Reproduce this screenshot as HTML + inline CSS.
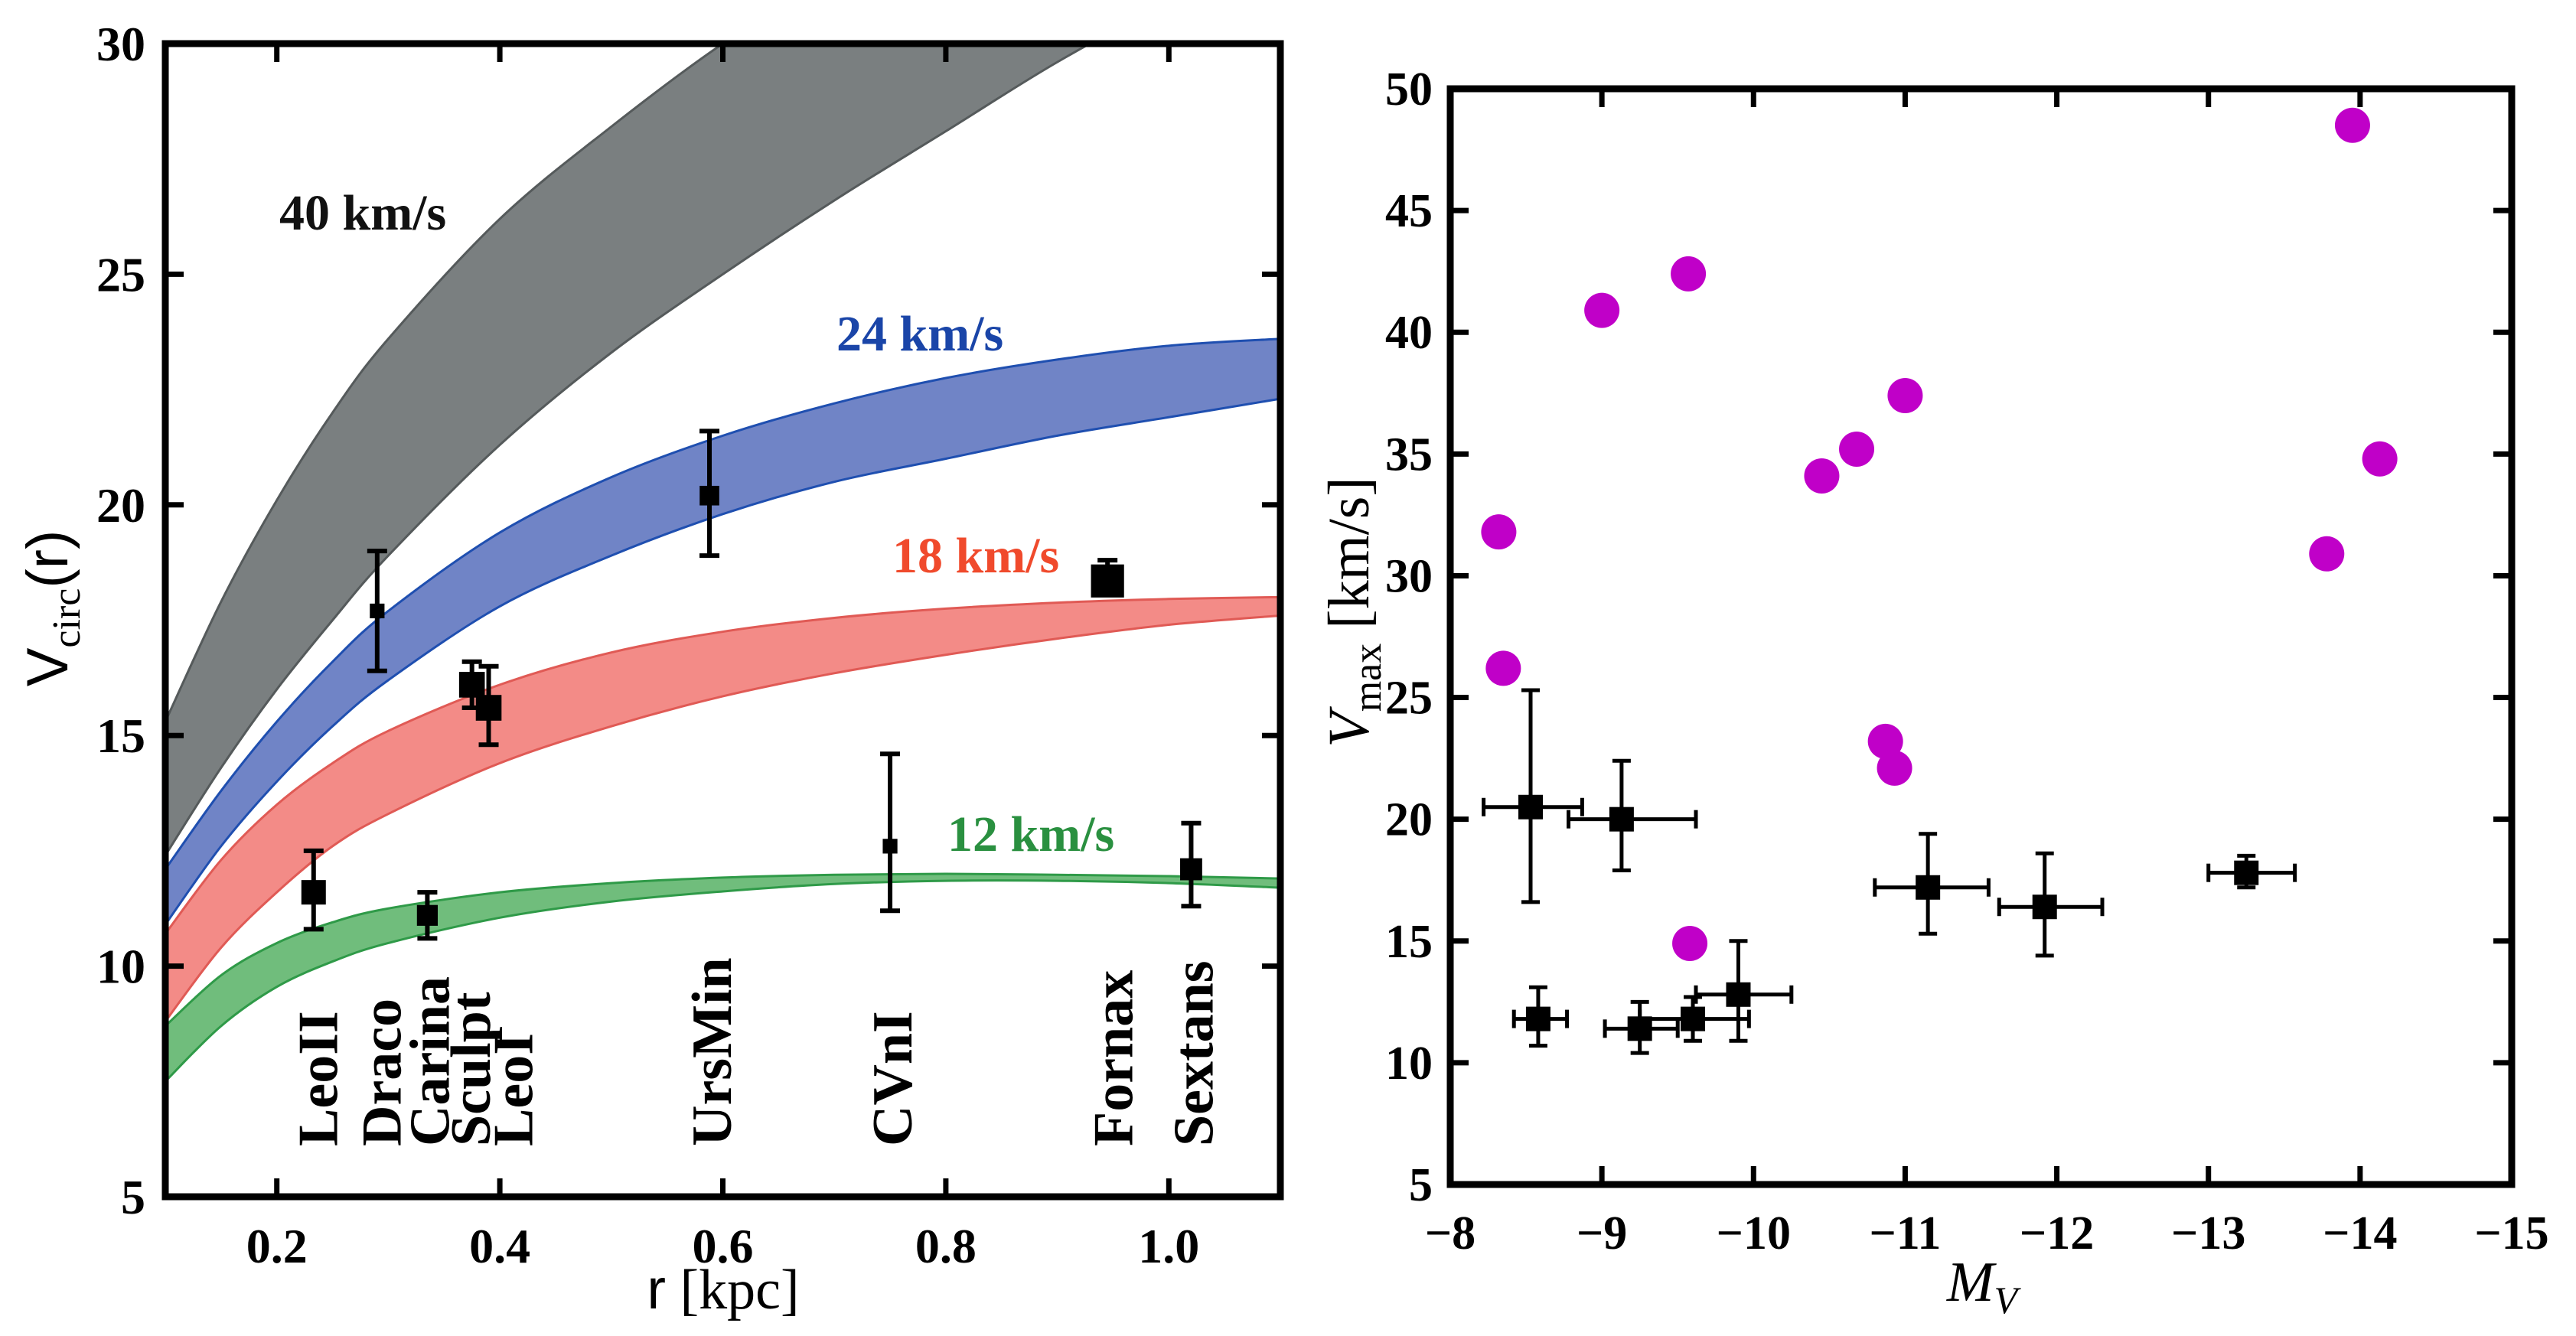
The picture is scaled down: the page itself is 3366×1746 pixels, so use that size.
<!DOCTYPE html>
<html><head><meta charset="utf-8"><style>
html,body{margin:0;padding:0;background:#fff}
svg{display:block}
text{font-family:"Liberation Serif",serif}
</style></head><body>
<svg id="fig" xmlns="http://www.w3.org/2000/svg" width="3366" height="1746" viewBox="0 0 3366 1746">
<defs>
<clipPath id="clipL"><rect x="216" y="57" width="1457" height="1507"/></clipPath>
<clipPath id="clipR"><rect x="1895" y="116" width="1387" height="1432"/></clipPath>
</defs>
<g id="left"></g>
<g id="right"></g>
</svg>
<script>
// ---------- Left panel data ----------
const bandR = [0.1, 0.15, 0.2, 0.25, 0.3, 0.4, 0.5, 0.6, 0.7, 0.8, 0.9, 1.0, 1.1];
const grayUpper = [15.3, 17.9, 20.1, 22.0, 23.6, 26.2, 28.2, 30.0, 31.5, 32.8, 34.0, 35.0, 36.0];
const grayLower = [12.4, 14.3, 16.0, 17.5, 18.9, 21.3, 23.3, 25.0, 26.6, 28.1, 29.6, 30.9, 32.0];
const blueUpper = [12.1, 13.8, 15.3, 16.6, 17.7, 19.4, 20.6, 21.5, 22.2, 22.75, 23.15, 23.45, 23.6];
const blueLower = [10.9, 12.6, 14.0, 15.2, 16.2, 17.8, 18.9, 19.8, 20.5, 21.0, 21.5, 21.9, 22.3];
const redUpper = [10.7, 12.3, 13.5, 14.4, 15.1, 16.1, 16.8, 17.25, 17.55, 17.75, 17.88, 17.96, 18.0];
const redLower = [8.8, 10.4, 11.6, 12.6, 13.3, 14.4, 15.2, 15.85, 16.35, 16.75, 17.1, 17.4, 17.6];
const greenUpper = [8.7, 9.8, 10.5, 10.95, 11.25, 11.6, 11.8, 11.92, 11.98, 12.0, 11.98, 11.95, 11.9];
const greenLower = [7.5, 8.7, 9.55, 10.1, 10.5, 11.05, 11.4, 11.62, 11.78, 11.85, 11.85, 11.8, 11.7];
const galaxies = ["LeoII","Draco","Carina","Sculpt","LeoI","UrsMin","CVnI","Fornax","Sextans"];
const galR = [0.233, 0.29, 0.335, 0.375, 0.39, 0.588, 0.75, 0.945, 1.02];
const galV = [11.6, 17.7, 11.1, 16.1, 15.6, 20.2, 12.6, 18.35, 12.1];
const galLo = [10.8, 16.4, 10.6, 15.6, 14.8, 18.9, 11.2, 18.1, 11.3];
const galHi = [12.5, 19.0, 11.6, 16.6, 16.5, 21.6, 14.6, 18.8, 13.1];
const galSize = [1.0, 0.6, 0.85, 1.05, 1.05, 0.8, 0.6, 1.35, 0.9];
const galLabelR = [0.237, 0.294, 0.337, 0.374, 0.412, 0.59, 0.752, 0.95, 1.022];
const leftXTicks = [0.2, 0.4, 0.6, 0.8, 1.0];
const leftXTickLabels = ["0.2","0.4","0.6","0.8","1.0"];
const leftYTicks = [5, 10, 15, 20, 25, 30];

// ---------- Right panel data ----------
const magMV = [-8.32, -8.35, -9.0, -9.57, -10.45, -10.68, -11.0, -10.87, -10.93, -9.58, -13.95, -13.78, -14.13];
const magV = [31.8, 26.2, 40.9, 42.4, 34.1, 35.2, 37.4, 23.2, 22.1, 14.9, 48.5, 30.9, 34.8];
const obsMV = [-8.53, -9.13, -8.58, -9.25, -9.6, -9.9, -11.15, -11.92, -13.25];
const obsV = [20.5, 20.0, 11.8, 11.4, 11.8, 12.8, 17.2, 16.4, 17.8];
const obsXLo = [-8.22, -8.78, -8.42, -9.02, -9.25, -9.62, -10.8, -11.62, -13.0];
const obsXHi = [-8.87, -9.62, -8.77, -9.5, -9.97, -10.25, -11.55, -12.3, -13.57];
const obsYLo = [16.6, 17.9, 10.7, 10.4, 10.9, 10.9, 15.3, 14.4, 17.2];
const obsYHi = [25.3, 22.4, 13.1, 12.5, 12.7, 15.0, 19.4, 18.6, 18.5];
const rightXTicks = [-8, -9, -10, -11, -12, -13, -14, -15];
const rightXTickLabels = ["\u22128","\u22129","\u221210","\u221211","\u221212","\u221213","\u221214","\u221215"];
const rightYTicks = [5, 10, 15, 20, 25, 30, 35, 40, 45, 50];

const NS = "http://www.w3.org/2000/svg";
function mk(tag, attrs, parent){const e=document.createElementNS(NS,tag);for(const k in attrs)e.setAttribute(k,attrs[k]);parent.appendChild(e);return e;}

// ---------- Left panel ----------
const L = document.getElementById('left');
const lx = r => 216 + (r - 0.1) / 1.0 * 1457;
const ly = v => 1564 - (v - 5) / 25 * 1507;
const bandsG = mk('g', {'clip-path':'url(#clipL)'}, L);


function smooth(pts, first){
  let d = (first ? 'M' : 'L') + pts[0][0]+','+pts[0][1];
  for(let i=0;i<pts.length-1;i++){
    const p0=pts[Math.max(i-1,0)],p1=pts[i],p2=pts[i+1],p3=pts[Math.min(i+2,pts.length-1)];
    const c1=[p1[0]+(p2[0]-p0[0])/6,p1[1]+(p2[1]-p0[1])/6];
    const c2=[p2[0]-(p3[0]-p1[0])/6,p2[1]-(p3[1]-p1[1])/6];
    d+=' C'+c1[0]+','+c1[1]+' '+c2[0]+','+c2[1]+' '+p2[0]+','+p2[1];
  }
  return d;
}
function band(up, lo, fill, stroke, name){
  const pu = bandR.map((r,i)=>[lx(r), ly(up[i])]);
  const pl = bandR.map((r,i)=>[lx(r), ly(lo[i])]).reverse();
  const p = mk('path', {d: smooth(pu,true) + ' ' + smooth(pl,false) + ' Z', fill: fill, stroke: stroke, 'stroke-width': 3}, bandsG);
  
  
}
band(grayUpper, grayLower, '#7a7f80', '#555a5b', 'band-40-kms');
band(blueUpper, blueLower, 'rgba(80,105,185,0.82)', '#1f4fb0', 'band-24-kms');
band(redUpper, redLower, 'rgba(240,110,105,0.80)', '#e05a55', 'band-18-kms');
band(greenUpper, greenLower, 'rgba(80,175,95,0.82)', '#2f9a48', 'band-12-kms');

[["40 km/s",365,300,"#111","label-40-kms"],["24 km/s",1093,458,"#1a45a8","label-24-kms"],["18 km/s",1166,748,"#f04a2c","label-18-kms"],["12 km/s",1238,1112,"#2a9040","label-12-kms"]].forEach(t=>{
  const e = mk('text', {x:t[1], y:t[2], 'font-size':66, 'font-weight':'bold', fill:t[3]}, L);
  e.textContent = t[0];
  
  
});

galaxies.forEach((g,i)=>{
  const x = lx(galR[i]);
  const grp = mk('g', {}, L);
  
  
  mk('line', {x1:x, x2:x, y1:ly(galLo[i]), y2:ly(galHi[i]), stroke:'#000', 'stroke-width':6}, grp);
  mk('line', {x1:x-13, x2:x+13, y1:ly(galLo[i]), y2:ly(galLo[i]), stroke:'#000', 'stroke-width':6}, grp);
  mk('line', {x1:x-13, x2:x+13, y1:ly(galHi[i]), y2:ly(galHi[i]), stroke:'#000', 'stroke-width':6}, grp);
  const s = 32 * galSize[i];
  mk('rect', {x:x-s/2, y:ly(galV[i])-s/2, width:s, height:s, fill:'#000'}, grp);
  const t = mk('text', {x:0, y:0, 'font-size':74, 'font-weight':'bold', fill:'#000',
    transform:'translate(' + (lx(galLabelR[i])+25) + ',1498) rotate(-90)'}, L);
  t.textContent = g;
  
  
});

const lf = mk('rect', {x:216, y:57, width:1457, height:1507, fill:'none', stroke:'#000', 'stroke-width':9}, L);


leftXTicks.forEach((r,i)=>{
  const x = lx(r);
  mk('line', {x1:x, x2:x, y1:1564, y2:1540, stroke:'#000', 'stroke-width':7}, L);
  mk('line', {x1:x, x2:x, y1:57, y2:81, stroke:'#000', 'stroke-width':7}, L);
  const t = mk('text', {x:x, y:1650, 'font-size':64, 'font-weight':'bold', 'text-anchor':'middle'}, L);
  t.textContent = leftXTickLabels[i];
  
  
});
leftYTicks.forEach(v=>{
  const y = ly(v);
  mk('line', {x1:216, x2:240, y1:y, y2:y, stroke:'#000', 'stroke-width':7}, L);
  mk('line', {x1:1673, x2:1649, y1:y, y2:y, stroke:'#000', 'stroke-width':7}, L);
  const t = mk('text', {x:190, y:y+22, 'font-size':64, 'font-weight':'bold', 'text-anchor':'end'}, L);
  t.textContent = String(v);
  
  
});
(function(){
  const xt = document.createElementNS(NS,'text');
  xt.setAttribute('x',945); xt.setAttribute('y',1710); xt.setAttribute('font-size',74); xt.setAttribute('text-anchor','middle');
  xt.innerHTML = '<tspan font-family="Liberation Sans, sans-serif">r</tspan> [kpc]';
  
  
  L.appendChild(xt);
  const yt = document.createElementNS(NS,'text');
  yt.setAttribute('transform','translate(88,795) rotate(-90)'); yt.setAttribute('font-size',76); yt.setAttribute('text-anchor','middle');
  yt.innerHTML = '<tspan font-family="Liberation Sans, sans-serif">V</tspan><tspan font-size="52" dy="16">circ</tspan><tspan dy="-16" font-family="Liberation Sans, sans-serif">(r)</tspan>';
  
  
  L.appendChild(yt);
})();

// ---------- Right panel ----------
const R = document.getElementById('right');
const rx = m => 1895 + (-8 - m) / 7 * 1387;
const ry = v => 1548 - (v - 5) / 45 * 1432;
const dataG = mk('g', {'clip-path':'url(#clipR)'}, R);


obsMV.forEach((m,i)=>{
  const g = mk('g', {}, dataG);
  
  
  const x = rx(m), y = ry(obsV[i]);
  const x1 = rx(obsXLo[i]), x2 = rx(obsXHi[i]), y1 = ry(obsYLo[i]), y2 = ry(obsYHi[i]);
  mk('line', {x1:x1, x2:x2, y1:y, y2:y, stroke:'#000', 'stroke-width':5}, g);
  mk('line', {x1:x, x2:x, y1:y1, y2:y2, stroke:'#000', 'stroke-width':5}, g);
  mk('line', {x1:x1, x2:x1, y1:y-12, y2:y+12, stroke:'#000', 'stroke-width':5}, g);
  mk('line', {x1:x2, x2:x2, y1:y-12, y2:y+12, stroke:'#000', 'stroke-width':5}, g);
  mk('line', {x1:x-12, x2:x+12, y1:y1, y2:y1, stroke:'#000', 'stroke-width':5}, g);
  mk('line', {x1:x-12, x2:x+12, y1:y2, y2:y2, stroke:'#000', 'stroke-width':5}, g);
  mk('rect', {x:x-16, y:y-16, width:32, height:32, fill:'#000'}, g);
});
magMV.forEach((m,i)=>{
  const c = mk('circle', {cx:rx(m), cy:ry(magV[i]), r:23, fill:'#c000c8'}, dataG);
  
  
});
const rf = mk('rect', {x:1895, y:116, width:1387, height:1432, fill:'none', stroke:'#000', 'stroke-width':9}, R);


rightXTicks.forEach((m,i)=>{
  const x = rx(m);
  mk('line', {x1:x, x2:x, y1:1548, y2:1524, stroke:'#000', 'stroke-width':7}, R);
  mk('line', {x1:x, x2:x, y1:116, y2:140, stroke:'#000', 'stroke-width':7}, R);
  const t = mk('text', {x:x, y:1632, 'font-size':62, 'font-weight':'bold', 'text-anchor':'middle'}, R);
  t.textContent = rightXTickLabels[i];
  
  
});
rightYTicks.forEach(v=>{
  const y = ry(v);
  mk('line', {x1:1895, x2:1919, y1:y, y2:y, stroke:'#000', 'stroke-width':7}, R);
  mk('line', {x1:3282, x2:3258, y1:y, y2:y, stroke:'#000', 'stroke-width':7}, R);
  const t = mk('text', {x:1872, y:y+21, 'font-size':62, 'font-weight':'bold', 'text-anchor':'end'}, R);
  t.textContent = String(v);
  
  
});
(function(){
  const xt = document.createElementNS(NS,'text');
  xt.setAttribute('x',2590); xt.setAttribute('y',1700); xt.setAttribute('font-size',74); xt.setAttribute('text-anchor','middle'); xt.setAttribute('font-style','italic');
  xt.innerHTML = 'M<tspan font-size="50" dy="16">V</tspan>';
  
  
  R.appendChild(xt);
  const yt = document.createElementNS(NS,'text');
  yt.setAttribute('transform','translate(1788,800) rotate(-90)'); yt.setAttribute('font-size',76); yt.setAttribute('text-anchor','middle');
  yt.innerHTML = '<tspan font-style="italic">V</tspan><tspan font-size="52" dy="16">max</tspan><tspan dy="-16"> [km/s]</tspan>';
  
  
  R.appendChild(yt);
})();
</script>
</body></html>
